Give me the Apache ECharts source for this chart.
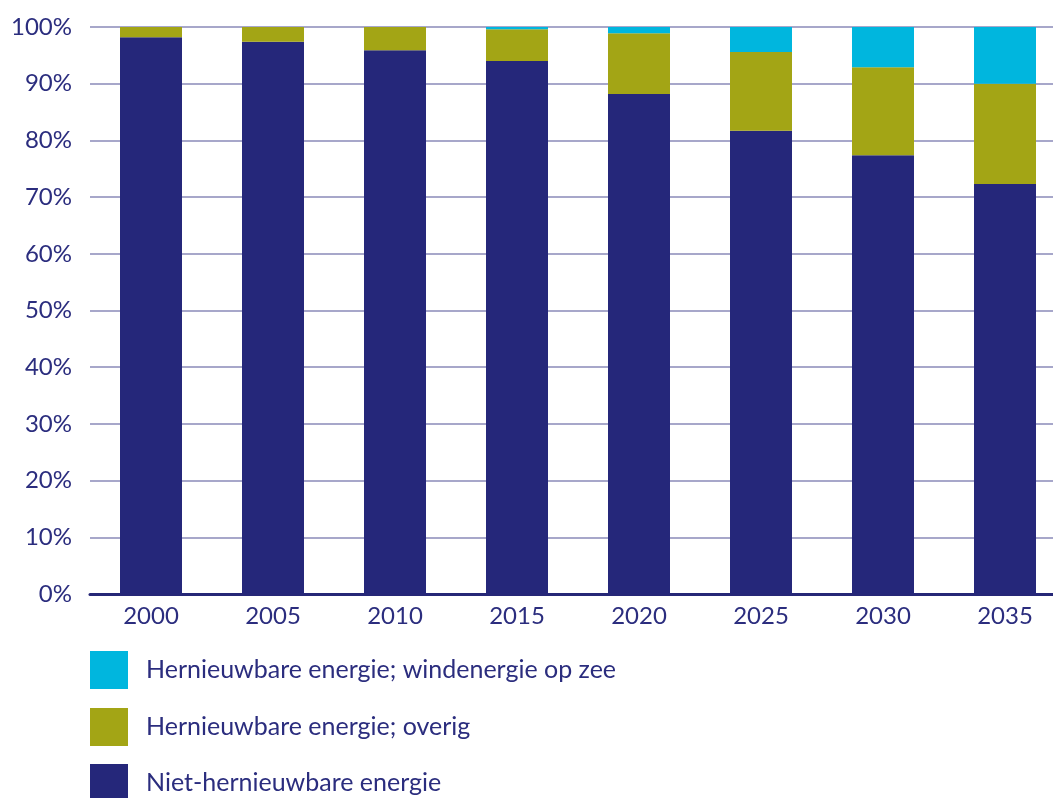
<!DOCTYPE html>
<html><head><meta charset="utf-8">
<script src="https://cdn.jsdelivr.net/npm/echarts@6/dist/echarts.min.js"></script>
<style>html,body{margin:0;padding:0;background:#fff}#c{width:1053px;height:798px}</style>
</head><body><div id="c"></div>
<script>
const categories = ['2000','2005','2010','2015','2020','2025','2030','2035'];
const nietHernieuwbaar = [98.2, 97.4, 95.9, 94.0, 88.2, 81.7, 77.4, 72.3];
const hernieuwbaarOverig = [1.8, 2.6, 4.1, 5.6, 10.7, 13.9, 15.5, 17.7];
const windOpZee = [0, 0, 0, 0.4, 1.1, 4.4, 7.1, 10.0];
const seriesNames = ['Hernieuwbare energie; windenergie op zee','Hernieuwbare energie; overig','Niet-hernieuwbare energie'];
const yTicks = [0, 100, 10];

const txt = '#2b2d7e';
const font = 'Lato';
const legendTops = [651, 708, 764];
const chart = echarts.init(document.getElementById('c'), null, {renderer:'canvas'});
chart.setOption({
  animation:false,
  textStyle:{fontFamily:font},
  grid:{left:90, top:27, width:976, height:567, containLabel:false, outerBoundsMode:'none'},
  legend: seriesNames.map((n,i)=>({
    orient:'vertical', left:90, top:legendTops[i], padding:0,
    itemWidth:38, itemHeight:38,
    icon:'rect',
    data:[n],
    textStyle:{fontSize:25, color:txt, fontFamily:font, padding:[0,0,0,13]}
  })),
  xAxis:{
    type:'category', data:categories,
    axisLine:{show:true, lineStyle:{color:'#262777', width:3}},
    axisTick:{show:false},
    axisLabel:{fontSize:24, color:txt, margin:10, fontFamily:font}
  },
  yAxis:{
    type:'value', min:yTicks[0], max:yTicks[1], interval:yTicks[2],
    axisLine:{show:false}, axisTick:{show:false},
    axisLabel:{fontSize:24, color:txt, margin:18, formatter:'{value}%', fontFamily:font},
    splitLine:{show:true, lineStyle:{color:'#8a8ab8', width:1.5}}
  },
  series:[
    {name:seriesNames[2], type:'bar', stack:'a', data:nietHernieuwbaar, barWidth:62, itemStyle:{color:'#25277a'}},
    {name:seriesNames[1], type:'bar', stack:'a', data:hernieuwbaarOverig, barWidth:62, itemStyle:{color:'#a3a515'}},
    {name:seriesNames[0], type:'bar', stack:'a', data:windOpZee, barWidth:62, itemStyle:{color:'#00b6de'}}
  ]
});
</script></body></html>
